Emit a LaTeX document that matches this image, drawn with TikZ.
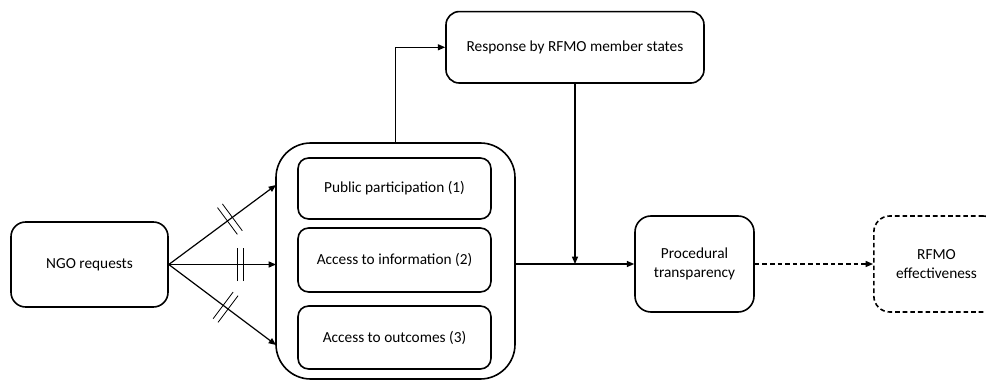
\documentclass[tikz,border=0pt]{standalone}
\usepackage{fontspec}
\setmainfont{Carlito}
\usetikzlibrary{arrows.meta,calc}
\tikzset{
  box/.style={draw, line width=1.2pt, rounded corners=#1, align=center, inner sep=0pt,
    font=\fontsize{11.5}{14}\selectfont},
  box/.default=11pt,
  arr/.style={line width=0.9pt, -{Triangle[length=5.5pt,width=4.5pt]}},
  slashes/.pic={\draw[arrows=-, line width=0.6pt, solid] (-2.3pt,-12.5pt) -- (-2.3pt,12.5pt) (2.3pt,-12.5pt) -- (2.3pt,12.5pt);}
}
\begin{document}
\begin{tikzpicture}[x=0.75pt,y=-0.75pt]
\clip (0,0) rectangle (986,388);
\fill[white] (0,0) rectangle (986,388);
% nodes
\node[box=11pt, minimum width=117.75pt, minimum height=63.75pt] (ngo) at (89.5,264.5) {NGO requests};
\node[box=26pt, minimum width=179.25pt, minimum height=177pt] (big) at (395.5,261) {};
\node[box=8pt, minimum width=144.75pt, minimum height=45.75pt] (pp) at (394.5,188.5) {Public participation (1)};
\node[box=8pt, minimum width=144.75pt, minimum height=48pt] (ai) at (394.5,260) {Access to information (2)};
\node[box=8pt, minimum width=144.75pt, minimum height=47.25pt] (ao) at (394.5,337.5) {Access to outcomes (3)};
\node[box=10pt, minimum width=193.5pt, minimum height=53.6pt] (resp) at (575,47.3) {Response by RFMO member states};
\node[box=12pt, minimum width=89.25pt, minimum height=72pt] (proc) at (694.5,264) {Procedural\\transparency};
\node[box=12pt, dashed, dash pattern=on 3.5pt off 2.2pt, minimum width=94pt, minimum height=72pt] (eff) at (936.5,264) {RFMO\\effectiveness};
% connector end points
\coordinate (t1) at (276,185);
\coordinate (t2) at (276,264.5);
\coordinate (t3) at (276,345);
\coordinate (m) at (resp.south |- proc.west);
% connectors
\draw[arr] (ngo.east) -- (t1) pic[pos=0.57, sloped]{slashes};
\draw[arr] (ngo.east) -- (t2) pic[pos=0.665, sloped]{slashes};
\draw[arr] (ngo.east) -- (t3) pic[pos=0.53, sloped]{slashes};
\draw[arr] (big.north) |- (resp.west);
\draw[arr] (resp.south) -- (m);
\draw[arr] (big.east |- proc.west) -- (proc.west);
\draw[arr, dashed, dash pattern=on 3.5pt off 2.2pt] (proc.east) -- (eff.west);
\end{tikzpicture}
\end{document}
